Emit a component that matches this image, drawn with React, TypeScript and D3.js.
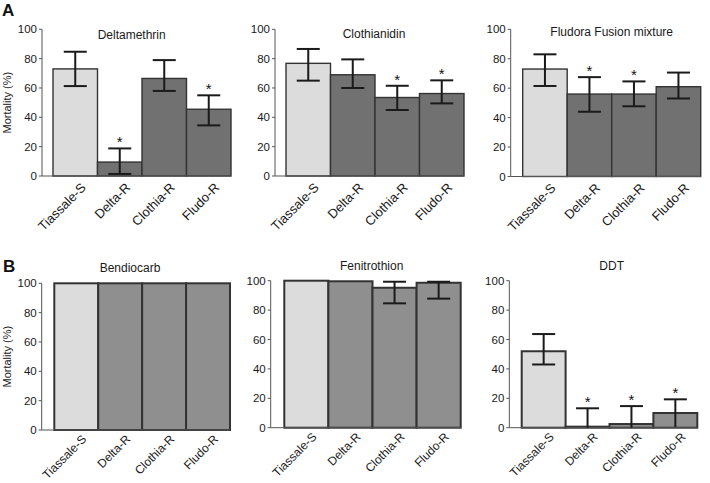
import React from "react";
import * as d3 from "d3";

const categories = ["Tiassale-S", "Delta-R", "Clothia-R", "Fludo-R"];
const yTicks = [0, 20, 40, 60, 80, 100];

const deltamethrinMean = [73, 9.5, 66.5, 45.5];
const deltamethrinLow = [61.3, 1.4, 58, 34.5];
const deltamethrinHigh = [84.7, 18.8, 79, 55];
const deltamethrinStar = [false, true, false, true];

const clothianidinMean = [76.8, 69, 53.5, 56.2];
const clothianidinLow = [65, 60, 45, 49.5];
const clothianidinHigh = [86.6, 79.5, 61.5, 65.2];
const clothianidinStar = [false, false, true, true];

const fludoraMean = [73, 56, 56, 61];
const fludoraLow = [61.5, 44, 47.7, 53];
const fludoraHigh = [83, 67.5, 64.6, 70.6];
const fludoraStar = [false, true, true, false];

const bendiocarbMean = [100, 100, 100, 100];
const bendiocarbLow: (number | null)[] = [null, null, null, null];
const bendiocarbHigh: (number | null)[] = [null, null, null, null];
const bendiocarbStar = [false, false, false, false];

const fenitrothionMean = [100, 99.6, 95.2, 98.6];
const fenitrothionLow: (number | null)[] = [null, null, 84.6, 87.8];
const fenitrothionHigh: (number | null)[] = [null, null, 99.3, 99.3];
const fenitrothionStar = [false, false, false, false];

const ddtMean = [52, 0.7, 2.5, 10];
const ddtLow = [43, 0, 0, 0.5];
const ddtHigh = [63.7, 13.2, 14.7, 19.3];
const ddtStar = [false, true, true, true];

type Panel = {
  title: string;
  mean: number[];
  low: (number | null)[];
  high: (number | null)[];
  star: boolean[];
  axisX: number;
  barStart: number;
  barEnd: number;
  yTop: number;
  yBottom: number;
  titleY: number;
  titleX: number;
  rowB: boolean;
  showYLabel: boolean;
};

const FONT = "'Liberation Sans', Arial, Helvetica, sans-serif";

const panels: Panel[] = [
  { title: "Deltamethrin", mean: deltamethrinMean, low: deltamethrinLow, high: deltamethrinHigh, star: deltamethrinStar,
    axisX: 42, barStart: 53, barEnd: 231, yTop: 29.3, yBottom: 176, titleY: 39, titleX: 131.7, rowB: false, showYLabel: true },
  { title: "Clothianidin", mean: clothianidinMean, low: clothianidinLow, high: clothianidinHigh, star: clothianidinStar,
    axisX: 275, barStart: 286, barEnd: 464, yTop: 29.3, yBottom: 176, titleY: 38, titleX: 374, rowB: false, showYLabel: false },
  { title: "Fludora Fusion mixture", mean: fludoraMean, low: fludoraLow, high: fludoraHigh, star: fludoraStar,
    axisX: 510.7, barStart: 522.7, barEnd: 700.7, yTop: 29.3, yBottom: 176.5, titleY: 36, titleX: 611.7, rowB: false, showYLabel: false },
  { title: "Bendiocarb", mean: bendiocarbMean, low: bendiocarbLow, high: bendiocarbHigh, star: bendiocarbStar,
    axisX: 41.7, barStart: 54.3, barEnd: 230, yTop: 283.3, yBottom: 430, titleY: 272, titleX: 130, rowB: true, showYLabel: true },
  { title: "Fenitrothion", mean: fenitrothionMean, low: fenitrothionLow, high: fenitrothionHigh, star: fenitrothionStar,
    axisX: 270.7, barStart: 284.3, barEnd: 460.7, yTop: 280.7, yBottom: 427.7, titleY: 270, titleX: 371.7, rowB: true, showYLabel: false },
  { title: "DDT", mean: ddtMean, low: ddtLow, high: ddtHigh, star: ddtStar,
    axisX: 509.3, barStart: 521.7, barEnd: 697.3, yTop: 280.7, yBottom: 427.7, titleY: 270, titleX: 611.7, rowB: true, showYLabel: false },
];

function PanelView({ p }: { p: Panel }) {
  const x = d3.scaleBand<string>().domain(categories).range([p.barStart, p.barEnd]).padding(0);
  const y = d3.scaleLinear().domain([0, 100]).range([p.yBottom, p.yTop]);
  const bw = x.bandwidth();
  const capW = 23;
  const lightFill = "#dcdcdc";
  const darkFill = p.rowB ? "#8f8f8f" : "#717171";
  const strokeW = p.rowB ? 2 : 1.4;
  const labelSize = p.rowB ? 12 : 13;
  const labelDy = p.rowB ? 4 : 6;
  return (
    <g>
      <text x={p.titleX} y={p.titleY} textAnchor="middle" fontSize={12} fontFamily={FONT} fill="#1a1a1a">
        {p.title}
      </text>
      {categories.map((c, i) => {
        const top = y(p.mean[i]);
        return (
          <rect key={c} x={x(c)!} y={top} width={bw} height={p.yBottom - top}
            fill={i === 0 ? lightFill : darkFill} stroke="#333" strokeWidth={strokeW} />
        );
      })}
      <line x1={p.axisX} x2={p.axisX} y1={p.yTop} y2={p.yBottom} stroke="#555" strokeWidth={1} />
      <line x1={p.axisX} x2={p.barEnd} y1={p.yBottom} y2={p.yBottom} stroke="#555" strokeWidth={1} />
      {yTicks.map((t) => (
        <g key={t}>
          <line x1={p.axisX - 3} x2={p.axisX} y1={y(t)} y2={y(t)} stroke="#555" strokeWidth={1} />
          <text x={p.axisX - 5} y={y(t)} dy="0.36em" textAnchor="end" fontSize={11.5} fontFamily={FONT} fill="#1a1a1a">
            {t}
          </text>
        </g>
      ))}
      {categories.map((c, i) => {
        const lo = p.low[i];
        const hi = p.high[i];
        if (lo == null || hi == null) return null;
        const cx = x(c)! + bw / 2;
        return (
          <g key={"e" + c} stroke="#1a1a1a" strokeWidth={2}>
            <line x1={cx} x2={cx} y1={y(lo)} y2={y(hi)} />
            <line x1={cx - capW / 2} x2={cx + capW / 2} y1={y(hi)} y2={y(hi)} />
            {lo > 0.6 && <line x1={cx - capW / 2} x2={cx + capW / 2} y1={y(lo)} y2={y(lo)} />}
          </g>
        );
      })}
      {categories.map((c, i) => {
        if (!p.star[i]) return null;
        const hi = p.high[i] ?? p.mean[i];
        const cx = x(c)! + bw / 2;
        return (
          <text key={"s" + c} x={cx} y={y(hi) - 1} textAnchor="middle" fontSize={15} fontFamily={FONT} fill="#111">
            *
          </text>
        );
      })}
      {categories.map((c) => {
        const cx = x(c)! + bw / 2;
        return (
          <text key={"l" + c} transform={`translate(${cx + 5},${p.yBottom + labelDy}) rotate(-45)`}
            textAnchor="end" dy="0.7em" fontSize={labelSize} fontFamily={FONT} fill="#1a1a1a">
            {c}
          </text>
        );
      })}
      {p.showYLabel && (
        <text transform={`translate(11,${(p.yTop + p.yBottom) / 2}) rotate(-90)`} textAnchor="middle"
          fontSize={11} fontFamily={FONT} fill="#1a1a1a">
          Mortality (%)
        </text>
      )}
    </g>
  );
}

export default function App() {
  return (
    <svg width={710} height={483} style={{ position: "absolute", left: 0, top: 0, background: "#fff" }}>
      <rect width={710} height={483} fill="#fff" />
      <text x={2} y={16} fontSize={17} fontWeight="bold" fontFamily={FONT} fill="#111">A</text>
      <text x={3} y={272} fontSize={17} fontWeight="bold" fontFamily={FONT} fill="#111">B</text>
      {panels.map((p) => (
        <PanelView key={p.title} p={p} />
      ))}
    </svg>
  );
}
